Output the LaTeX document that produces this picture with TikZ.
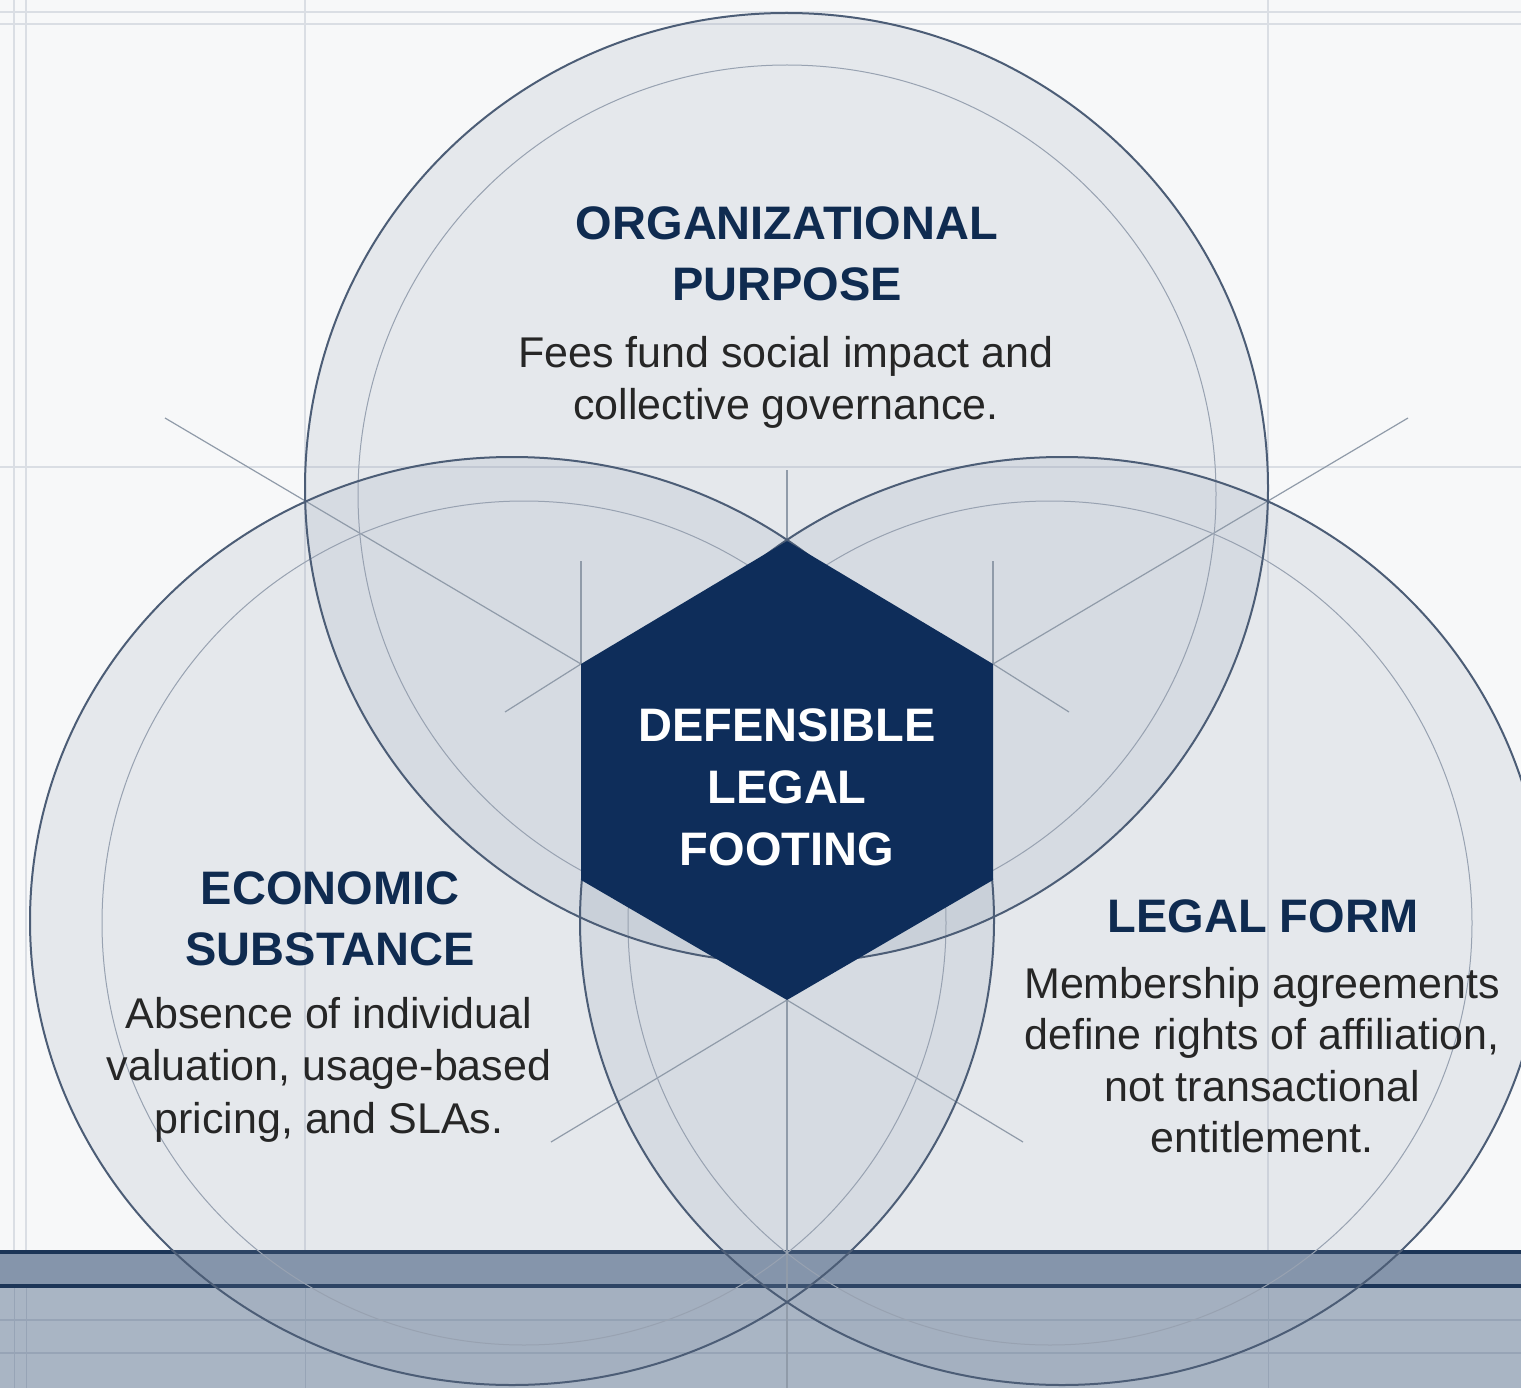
\documentclass[tikz,border=0pt]{standalone}
\usepackage{fontspec}
\setmainfont{Liberation Sans}
\definecolor{bgc}{HTML}{F7F8F9}
\definecolor{gridc}{HTML}{DADEE4}
\definecolor{navy}{HTML}{0F2B50}
\definecolor{hexc}{HTML}{0E2D5A}
\definecolor{bodyc}{HTML}{262626}
\definecolor{ringc}{HTML}{4C5D76}
\definecolor{innerc}{HTML}{98A2B1}
\definecolor{guidec}{HTML}{909BA9}
\definecolor{circfill}{HTML}{8A98AE}
\definecolor{bandlow}{HTML}{A9B5C4}
\definecolor{bandmid}{HTML}{8595AB}
\definecolor{bandline}{HTML}{1C3557}
\definecolor{bandgrid}{HTML}{97A4B6}
\tikzset{
  gridline/.style={draw=gridc, line width=1.2pt},
  outerring/.style={draw=ringc, line width=2pt},
  innerring/.style={draw=innerc, line width=1pt},
  ringfill/.style={fill=circfill, fill opacity=0.16},
  guide/.style={draw=guidec, line width=1.2pt},
  head/.style={font=\bfseries\fontsize{47}{61}\selectfont, text=navy, align=center, inner sep=0pt},
  bodytext/.style={font=\fontsize{43}{52.5}\selectfont, text=bodyc, align=center, inner sep=0pt},
  hextext/.style={font=\bfseries\fontsize{47}{62}\selectfont, text=white, align=center, inner sep=0pt}
}
\begin{document}
\begin{tikzpicture}[x=1pt,y=-1pt]
\useasboundingbox (0,0) rectangle (1521,1388);
\clip (0,0) rectangle (1521,1388);
% background
\fill[bgc] (0,0) rectangle (1521,1388);
% grid
\foreach \gx in {14,26,305,1268} \draw[gridline] (\gx,0) -- (\gx,1388);
\foreach \gy in {12,24,467} \draw[gridline] (0,\gy) -- (1521,\gy);
% bottom band
\fill[bandlow] (0,1251) rectangle (1521,1388);
\fill[bandmid] (0,1251) rectangle (1521,1286);
\foreach \gy in {1320,1353} \draw[draw=bandgrid, line width=1.2pt] (0,\gy) -- (1521,\gy);
\foreach \gx in {14,26,305,1268} \draw[draw=bandgrid, line width=1pt] (\gx,1286) -- (\gx,1388);
\draw[draw=bandline, line width=4pt] (0,1252) -- (1521,1252);
\draw[draw=bandline, line width=4pt] (0,1286) -- (1521,1286);
% circle centres
\coordinate (cTop) at (786.5,488);
\coordinate (cLeft) at (512,921);
\coordinate (cRight) at (1062,921);
\coordinate (iTop) at (787,494);
\coordinate (iLeft) at (524,923);
\coordinate (iRight) at (1050,923);
% circle fills
\fill[ringfill] (cTop) ellipse [x radius=481.5, y radius=475];
\fill[ringfill] (cLeft) ellipse [x radius=482, y radius=464];
\fill[ringfill] (cRight) ellipse [x radius=482, y radius=464];
% hexagon vertices
\coordinate (hT) at (787,541);
\coordinate (hUR) at (993,664);
\coordinate (hLR) at (993,880);
\coordinate (hB) at (787,1000);
\coordinate (hLL) at (581,880);
\coordinate (hUL) at (581,664);
% guide line ends
\coordinate (gA) at (165,418);
\coordinate (gB) at (1408,418);
\coordinate (gC) at (505,712);
\coordinate (gD) at (1069,712);
\coordinate (gE) at (787,470);
\coordinate (gF) at (581,561);
\coordinate (gG) at (993,561);
\coordinate (gH) at (787,1388);
\coordinate (gI) at (551,1142);
\coordinate (gJ) at (1023,1142);
\draw[guide] (gA) -- (hUL);
\draw[guide] (gB) -- (hUR);
\draw[guide] (gC) -- (hUL);
\draw[guide] (gD) -- (hUR);
\draw[guide] (gE) -- (hT);
\draw[guide] (gF) -- (hUL);
\draw[guide] (gG) -- (hUR);
\draw[guide] (hB) -- (gH);
\draw[guide] (hB) -- (gI);
\draw[guide] (hB) -- (gJ);
% inner rings
\draw[innerring] (iTop) circle [radius=429];
\draw[innerring] (iLeft) circle [radius=422];
\draw[innerring] (iRight) circle [radius=422];
% outer rings
\draw[outerring] (cTop) ellipse [x radius=481.5, y radius=475];
\draw[outerring] (cLeft) ellipse [x radius=482, y radius=464];
\draw[outerring] (cRight) ellipse [x radius=482, y radius=464];
% hexagon
\fill[hexc] (hT) -- (hUR) -- (hLR) -- (hB) -- (hLL) -- (hUL) -- cycle;
\node[hextext, anchor=north] (core) at (787,708) {DEFENSIBLE\\LEGAL\\FOOTING};
% texts
\node[head, anchor=north] (orgHead) at (787,206) {ORGANIZATIONAL\\PURPOSE};
\node[bodytext, anchor=north] (orgBody) at (786,336) {Fees fund social impact and\\collective governance.};
\node[head, anchor=north] (ecoHead) at (330,871) {ECONOMIC\\SUBSTANCE};
\node[bodytext, anchor=north] (ecoBody) at (329,997) {Absence of individual\\valuation, usage-based\\pricing, and SLAs.};
\node[head, anchor=north] (legHead) at (1263,899) {LEGAL FORM};
\node[bodytext, anchor=north, font=\fontsize{43}{51.5}\selectfont] (legBody) at (1262,967) {Membership agreements\\define rights of affiliation,\\not transactional\\entitlement.};
\end{tikzpicture}
\end{document}
